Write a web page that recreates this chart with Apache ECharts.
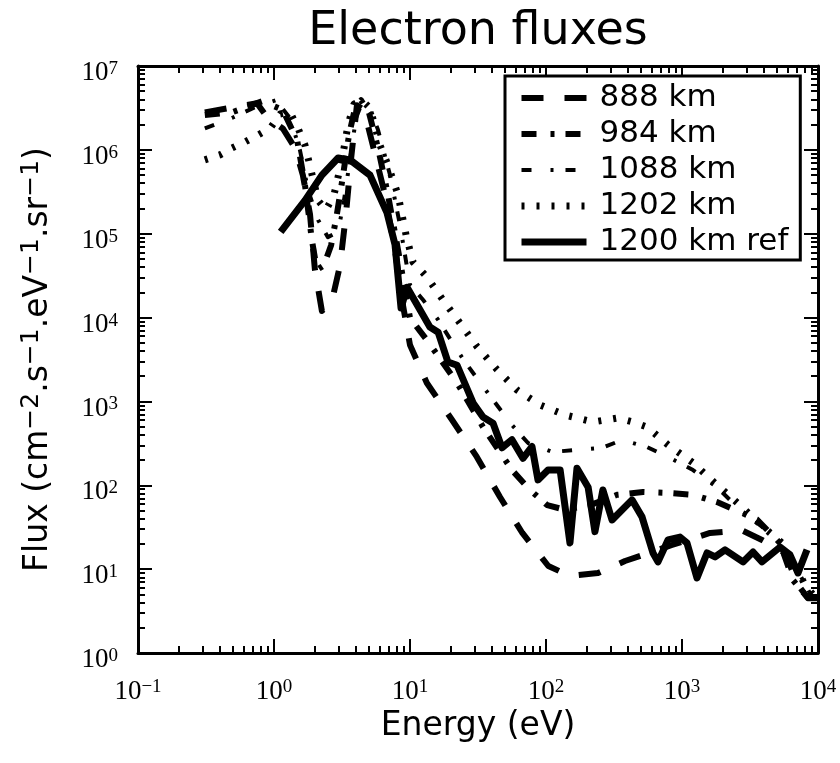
<!DOCTYPE html>
<html><head><meta charset="utf-8">
<script src="https://cdn.jsdelivr.net/npm/echarts@6/dist/echarts.min.js"></script>
<style>html,body{margin:0;padding:0;background:#fff}#c{width:840px;height:763px}</style>
</head><body><div id="c"></div>
<script>
// ---- data (energy in eV, flux in cm^-2 s^-1 eV^-1 sr^-1) ----
const seriesNames = ['888 km', '984 km', '1088 km', '1202 km', '1200 km ref'];
const xTickExponents = [-1, 0, 1, 2, 3, 4];
const yTickExponents = [0, 1, 2, 3, 4, 5, 6, 7];

const energy888 = [0.31,0.49,0.75,0.90,1.16,1.43,1.63,1.84,2.0,2.25,2.67,3.06,3.38,3.68,4.07,4.59,5.43,6.55,7.76,8.88,10,13.3,20.4,31,46,67,104,150,241,381,844,1607,2760,3875,5710,7130,8430,10000];
const flux888 = [2.8e6,3.2e6,3.6e6,2.4e6,1.8e6,1.05e6,5e5,1.7e5,3.7e4,1.2e4,1.6e4,4.2e4,1.7e5,7.6e5,3.4e6,3.0e6,1e6,2.9e5,6.4e4,1.4e4,4.7e3,1660,600,218,72,27,10.9,8.3,9.0,12.5,19.4,27,29,22.3,15.6,6.5,4.5,4.5];

const energy984 = [0.31,0.49,0.82,1.16,1.48,1.69,1.90,2.07,2.33,2.63,2.90,3.22,3.56,3.95,4.37,5.0,5.82,6.89,8.17,10,13.3,22.2,34.4,56.2,76.2,102,138,211,333,517,789,1205,1808,2670,3560,5255,6545,8300,10000];
const flux984 = [2.6e6,2.8e6,3.8e6,3.0e6,1.3e6,3.8e5,8.4e4,3.7e4,4.2e4,7.3e4,1.7e5,5e5,1.5e6,3.2e6,3.9e6,2.75e6,1.05e6,2.9e5,6.4e4,9.9e3,5.4e3,1660,496,152,88,58,51,58,77,83,81,77,63,48,39,20.5,7.4,4.66,4.5];

const energy1088 = [0.31,0.49,0.75,1.03,1.31,1.55,1.78,2.11,2.49,2.96,3.27,3.62,4.01,4.43,5.08,5.82,7.13,8.44,10,12.5,16.1,20.4,25.4,33.8,40.8,56.2,73.8,111,169,258,362,553,816,1205,1808,2670,3875,5255,7380,9040,10000];
const flux1088 = [1.8e6,2.4e6,3.3e6,3.9e6,2.4e6,1e6,3.3e5,1.46e5,9.1e4,1.05e5,2.5e5,7.6e5,2.4e6,3.6e6,3.16e6,1.73e6,5e5,1.27e5,2.45e4,1.62e4,9.4e3,5.1e3,2950,1570,1040,524,319,250,264,279,347,286,212,152,95,51,32,20.5,8.5,4.66,4.5];

const energy1202 = [0.31,0.40,0.49,0.61,0.76,0.94,1.11,1.31,1.50,1.69,1.87,2.11,2.41,2.76,3.16,3.50,3.87,4.43,5.08,6.01,6.89,8.17,9.35,10.5,13.3,17.5,23.3,31.1,43.6,61.2,90.4,138,222,338,436,553,789,1205,1750,2670,3940,5430,6780,8020,9500];
const flux1202 = [7.6e5,8.7e5,1.05e6,1.24e6,1.5e6,1.82e6,2.68e6,2.83e6,1.82e6,1.14e6,5.75e5,2.5e5,1.92e5,2.9e5,7.6e5,1.98e6,3.5e6,3.9e6,3.16e6,1.14e6,6.6e5,2.9e5,9.7e4,4.6e4,3.05e4,1.62e4,8.6e3,4.5e3,2400,1370,908,689,569,635,569,496,303,185,106,58,32,20.5,11.2,6.5,4.66];

const energyRef = [1.12,1.69,2.25,2.96,3.62,5.08,6.78,7.76,8.59,9.51,14.0,16.1,19.0,22.2,29.1,34.4,40.8,47.5,56.2,67.7,78.9,87.3,103.5,127,150,169,204,229,262,306,429,508,612,666,789,967,1088,1289,1527,1750,2072,2810,3330,3875,5255,6225,7130,8300];
const fluxRef = [1.05e5,2.5e5,5e5,8e5,7.6e5,5e5,1.77e5,7.4e4,1.3e4,2.3e4,7.7e3,6.7e3,2950,2700,960,650,550,280,350,210,290,116,152,152,20.5,160,95,28,88,38.6,67,42,15.6,12.2,22.3,24.1,20.5,7.85,15.6,14,17,12.2,16,12.2,18.3,14.8,9,17];

// ---- build ----
const energies = [energy888, energy984, energy1088, energy1202, energyRef];
const fluxes = [flux888, flux984, flux1088, flux1202, fluxRef];
const lineStyles = [
  {width: 6, type: [22, 21]},
  {width: 6, type: [15, 14, 4, 11]},
  {width: 4, type: [10, 19, 3, 12]},
  {width: 7, type: [3, 12]},
  {width: 7, type: 'solid'}
];

function minorLogTicks(exps) {
  const out = [];
  for (let i = 0; i < exps.length - 1; i++)
    for (let k = 2; k <= 9; k++) out.push(exps[i] + Math.log10(k));
  return out;
}
const minorX = minorLogTicks(xTickExponents);
const minorY = minorLogTicks(yTickExponents);

const serif = 'Liberation Serif';
const sans = 'DejaVu Sans';
const powRich = {
  b: {fontFamily: serif, fontSize: 27, lineHeight: 27, color: '#000'},
  s: {fontFamily: serif, fontSize: 19, lineHeight: 14, verticalAlign: 'top', color: '#000'}
};
const powFmt = v => '{b|10}{s|' + (v < 0 ? '\u2212' + (-v) : String(v)) + '}';

function axis(dim, position, minor, labels) {
  const isX = dim === 'x';
  const a = {
    type: 'value',
    min: isX ? xTickExponents[0] : yTickExponents[0],
    max: isX ? xTickExponents[xTickExponents.length - 1] : yTickExponents[yTickExponents.length - 1],
    interval: 1,
    position: position,
    axisLine: {show: !minor, onZero: false, lineStyle: {color: '#000', width: 3}},
    axisTick: {show: true, inside: true, length: minor ? 7 : 14, lineStyle: {color: '#000', width: 2}},
    axisLabel: {show: false},
    splitLine: {show: false}
  };
  if (minor) a.axisTick.customValues = isX ? minorX : minorY;
  if (labels) {
    a.axisLabel = isX
      ? {show: true, margin: 25, formatter: powFmt, rich: powRich}
      : {show: true, margin: 20, padding: [14, 0, 0, 0], formatter: powFmt, rich: powRich};
  }
  return a;
}

const xAxes = [axis('x', 'bottom', false, true), axis('x', 'bottom', true, false), axis('x', 'top', false, false), axis('x', 'top', true, false)];
xAxes[0].name = 'Energy (eV)';
xAxes[0].nameLocation = 'middle';
xAxes[0].nameGap = 33;
xAxes[0].nameTextStyle = {fontFamily: sans, fontSize: 33, color: '#000'};

const yAxes = [axis('y', 'left', false, true), axis('y', 'left', true, false), axis('y', 'right', false, false), axis('y', 'right', true, false)];
yAxes[0].name = '{a|Flux (cm}{s|\u22122}{a|.s}{s|\u22121}{a|.eV}{s|\u22121}{a|.sr}{s|\u22121}{a|)}';
yAxes[0].nameLocation = 'middle';
yAxes[0].nameRotate = 90;
yAxes[0].nameGap = 80;
yAxes[0].nameTextStyle = {
  color: '#000',
  rich: {
    a: {fontFamily: sans, fontSize: 33, lineHeight: 39, color: '#000'},
    s: {fontFamily: sans, fontSize: 25, lineHeight: 22, verticalAlign: 'top', color: '#000'}
  }
};

const series = seriesNames.map((name, i) => ({
  name: name,
  type: 'line',
  xAxisIndex: 0,
  yAxisIndex: 0,
  symbol: 'none',
  showSymbol: false,
  animation: false,
  color: '#000',
  lineStyle: Object.assign({color: '#000', cap: 'butt', join: 'round'}, lineStyles[i]),
  data: energies[i].map((e, j) => [Math.log10(e), Math.log10(fluxes[i][j])])
}));

const chart = echarts.init(document.getElementById('c'), null, {renderer: 'canvas'});
chart.setOption({
  animation: false,
  backgroundColor: '#fff',
  textStyle: {fontFamily: sans, color: '#000'},
  title: {
    text: 'Electron fluxes', left: 478, top: 9, textAlign: 'center', padding: 0,
    textStyle: {fontFamily: sans, fontSize: 46, fontWeight: 'normal', color: '#000'}
  },
  grid: {left: 138, right: 22, top: 66, bottom: 110, containLabel: false},
  legend: {
    data: seriesNames,
    orient: 'vertical',
    left: 505, top: 76,
    padding: [4, 12, 0, 13],
    itemGap: 0,
    itemWidth: 65, itemHeight: 14,
    backgroundColor: '#fff',
    borderColor: '#000', borderWidth: 3, borderRadius: 0,
    selectedMode: false,
    itemStyle: {opacity: 0, borderWidth: 0},
    lineStyle: {width: 'inherit', type: 'inherit', color: '#000', cap: 'butt'},
    textStyle: {fontFamily: sans, fontSize: 31, lineHeight: 36, color: '#000', padding: [0, 0, 0, 8]}
  },
  xAxis: xAxes,
  yAxis: yAxes,
  series: series
});
</script>
</body></html>
